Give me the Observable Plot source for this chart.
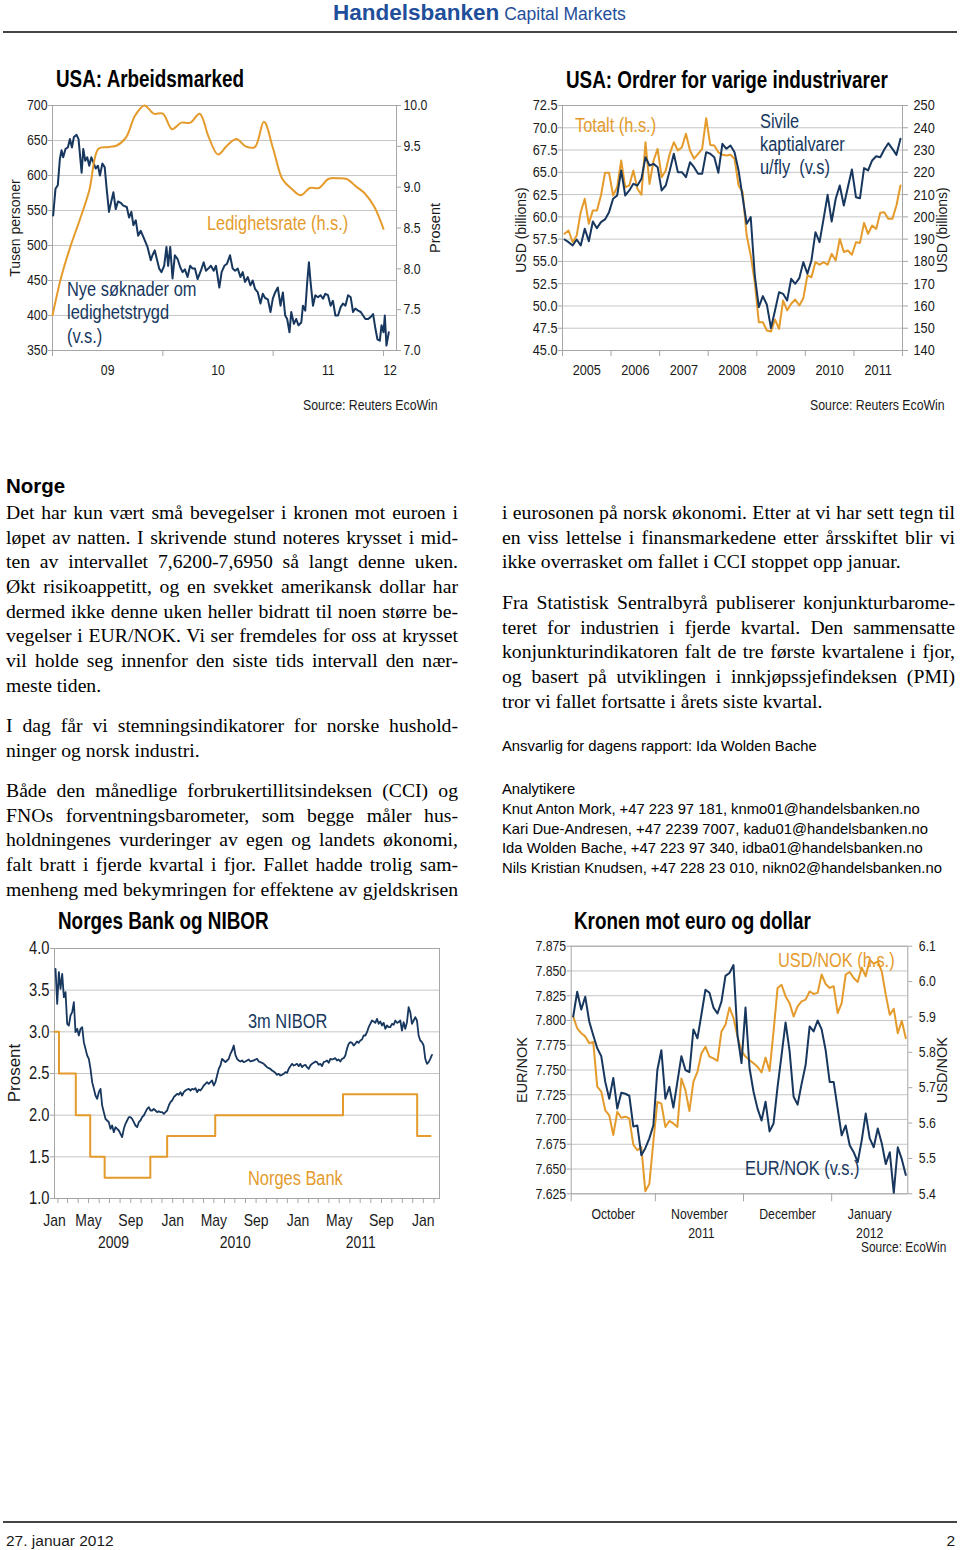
<!DOCTYPE html>
<html>
<head>
<meta charset="utf-8">
<script src="https://cdn.jsdelivr.net/npm/d3@7"></script>
<script src="https://cdn.jsdelivr.net/npm/@observablehq/plot@0.6"></script>
<style>
  html, body { margin: 0; padding: 0; background: #fff; }
  #root { position: relative; width: 960px; height: 1550px; overflow: hidden; background: #fff; }
</style>
</head>
<body>
<div id="root"></div>
<script>
// ---------------- DATA ----------------
// Chart 1: USA: Arbeidsmarked
const unemploymentRate = [7.43,7.92,8.29,8.61,8.96,9.47,9.49,9.51,9.61,9.88,10.0,9.9,9.9,9.71,9.79,9.79,9.9,9.61,9.4,9.51,9.59,9.5,9.49,9.8,9.47,9.1,8.98,8.9,8.99,8.99,9.1,9.11,9.1,9.01,8.92,8.76,8.49]; // monthly from Jan 2009, %
const rateStartYear = 2009;
const claims = [ // [decimal year, thousand persons]
[2009.006,543],[2009.027,581],[2009.048,586],[2009.067,624],[2009.082,636],[2009.097,626],[2009.118,638],[2009.139,640],[2009.158,652],[2009.176,640],
[2009.194,655],[2009.218,658],[2009.236,652],[2009.264,604],[2009.279,638],[2009.297,621],[2009.315,626],[2009.333,614],[2009.352,626],[2009.370,619],
[2009.391,610],[2009.412,614],[2009.430,600],[2009.452,617],[2009.473,612],[2009.491,581],[2009.512,548],[2009.533,563],[2009.552,576],[2009.573,552],
[2009.594,563],[2009.618,561],[2009.642,557],[2009.673,555],[2009.694,540],[2009.715,548],[2009.733,529],[2009.755,536],[2009.776,514],[2009.800,521],
[2009.824,512],[2009.861,498],[2009.891,479],[2009.906,486],[2009.927,493],[2009.945,481],[2009.967,467],[2009.988,462],[2010.012,471],[2010.033,498],
[2010.048,471],[2010.067,498],[2010.088,453],[2010.109,486],[2010.133,481],[2010.158,469],[2010.179,462],[2010.200,466],[2010.224,455],[2010.248,471],
[2010.270,467],[2010.291,467],[2010.315,452],[2010.345,464],[2010.370,476],[2010.391,464],[2010.412,467],[2010.436,471],[2010.461,464],[2010.482,471],
[2010.512,440],[2010.533,462],[2010.558,471],[2010.582,474],[2010.609,486],[2010.633,467],[2010.655,464],[2010.679,467],[2010.703,455],[2010.724,462],
[2010.745,448],[2010.770,455],[2010.794,443],[2010.815,450],[2010.836,438],[2010.861,433],[2010.885,417],[2010.906,431],[2010.927,425],[2010.952,423],
[2010.976,405],[2010.997,424],[2011.018,433],[2011.042,440],[2011.067,414],[2011.088,433],[2011.109,400],[2011.127,395],[2011.148,376],[2011.164,405],
[2011.188,388],[2011.209,395],[2011.230,386],[2011.255,390],[2011.270,414],[2011.291,407],[2011.309,448],[2011.324,476],[2011.339,448],[2011.361,414],
[2011.382,429],[2011.406,426],[2011.430,429],[2011.452,424],[2011.473,431],[2011.497,429],[2011.521,414],[2011.542,421],[2011.564,400],[2011.588,400],
[2011.612,412],[2011.633,417],[2011.655,414],[2011.679,429],[2011.703,426],[2011.724,405],[2011.745,410],[2011.770,407],[2011.794,405],[2011.815,400],
[2011.836,395],[2011.861,395],[2011.885,398],[2011.906,402],[2011.927,381],[2011.945,366],[2011.967,364],[2011.982,386],[2012.000,376],[2012.012,400],
[2012.027,357],[2012.048,376]
];
const claimsTicks = [350,400,450,500,550,600,650,700];
const rateTicks = [7.0,7.5,8.0,8.5,9.0,9.5,10.0];
const yearLabels1 = ["09","10","11","12"];

// Chart 2: USA: Ordrer for varige industrivarer (monthly Jan 2005 - Dec 2011)
const capGoodsExAir = [57.46,57.16,56.79,57.46,56.79,58.66,57.27,59.48,58.73,59.41,
59.71,60.53,62.03,62.40,65.21,62.40,62.96,63.71,63.52,64.27,
66.70,65.77,65.95,65.58,62.96,63.52,65.21,67.08,65.02,65.02,
64.46,66.14,65.58,64.83,64.83,67.26,67.08,66.70,64.94,68.20,
67.64,68.01,67.26,65.21,62.21,59.22,59.97,53.42,49.87,51.10,
50.13,47.51,49.49,51.55,51.36,50.62,53.05,52.49,53.12,54.92,
53.61,55.10,58.28,57.16,59.78,62.47,59.48,62.03,63.52,61.28,
63.33,65.32,62.21,62.10,65.47,65.21,66.33,66.81,66.70,67.56,
68.27,67.64,66.96,68.76];
const totalOrders = [192.4,193.9,188.6,191.6,202.1,208.1,196.9,202.9,202.9,209.6,
219.8,219.8,209.6,213.3,225.3,213.3,214.1,220.8,212.6,209.9,
233.5,214.8,225.3,230.5,217.8,220.8,228.3,233.5,229.8,231.3,
237.3,229.8,226.1,228.3,230.5,244.3,232.3,232.0,229.0,227.9,
227.6,227.9,226.1,214.1,211.1,191.6,182.7,170.7,152.7,152.7,
149.0,148.5,153.9,149.7,162.4,158.0,161.0,162.9,160.2,163.5,
173.7,172.9,179.7,178.5,179.7,178.5,183.4,180.4,190.1,184.2,
184.9,183.0,188.6,188.3,197.3,192.4,196.1,194.6,201.8,202.1,
199.1,199.1,205.1,214.1];
const ordersStartYear = 2005;
const capTicks = [45,47.5,50,52.5,55,57.5,60,62.5,65,67.5,70,72.5];
const totalTicks = [140,150,160,170,180,190,200,210,220,230,240,250];
const yearLabels2 = ["2005","2006","2007","2008","2009","2010","2011"];

// Chart 3: Norges Bank og NIBOR
const policyDates = ["2009-01-22","2009-02-04","2009-03-25","2009-05-06","2009-06-17","2009-10-28","2009-12-16","2010-05-05","2011-05-12","2011-12-14","2012-01-22"];
const policyRates = [3.0,2.5,2.0,1.5,1.25,1.5,1.75,2.0,2.25,1.75,1.75];
const niborStart = "2009-01-25", niborEnd = "2012-01-26";
const nibor3m = [3.756,3.336,3.716,3.516,3.696,3.416,3.476,3.096,3.076,3.196,3.236,3.356,2.996,3.036,
2.956,3.036,3.056,2.876,2.796,2.716,2.676,2.556,2.396,2.316,2.236,2.196,2.276,2.316,2.116,2.036,1.956,1.936,1.916,1.836,1.876,1.796,1.856,1.836,1.816,1.776,1.736,1.836,1.896,1.936,1.976,1.976,1.956,1.916,1.876,1.856,1.916,1.936,1.976,1.996,2.036,2.076,2.096,2.056,2.056,2.076,2.056,2.036,2.048,2.036,2.036,2.016,2.036,2.056,2.116,2.156,2.176,2.216,2.236,2.256,2.244,2.276,2.236,2.276,2.296,2.308,2.316,2.296,2.316,2.308,2.324,2.276,2.308,2.296,2.324,2.356,2.376,2.396,2.376,2.396,2.416,2.356,2.396,2.476,2.556,2.596,2.676,2.656,2.636,2.656,2.676,2.736,2.776,2.836,2.724,2.676,2.656,2.644,2.656,2.636,2.644,2.656,2.668,2.644,2.652,2.656,2.668,2.676,2.644,2.636,2.628,2.616,2.596,2.576,2.564,2.556,2.536,2.524,2.508,2.484,2.496,2.476,2.484,2.496,2.516,2.508,2.556,2.588,2.616,2.596,2.604,2.616,2.588,2.616,2.576,2.596,2.604,2.576,2.556,2.596,2.616,2.628,2.644,2.636,2.604,2.616,2.588,2.636,2.644,2.656,2.628,2.676,2.668,2.676,2.684,2.656,2.668,2.644,2.676,2.684,2.716,2.796,2.856,2.876,2.868,2.836,2.856,2.884,2.868,2.896,2.908,2.956,2.956,2.996,3.056,3.096,3.136,3.124,3.108,3.156,3.096,3.124,3.076,3.108,3.036,3.076,3.056,3.056,3.096,3.084,3.136,3.108,3.116,3.136,3.016,3.116,3.036,3.116,3.296,3.236,3.096,3.136,3.176,3.136,2.956,2.896,2.876,2.836,2.676,2.616,2.636,2.676,2.724];
const rateTicks3 = [1.0,1.5,2.0,2.5,3.0,3.5,4.0];
const axis3Start = "2009-01-22", axis3End = "2012-02-17";
const monthShort = ["Jan","Feb","Mar","Apr","May","Jun","Jul","Aug","Sep","Oct","Nov","Dec"];
const labelledMonths3 = [0,4,8];
const yearLabels3 = ["2009","2010","2011"];

// Chart 4: Kronen mot euro og dollar (daily, trading days from 3 Oct 2011)
const fxStart = "2011-10-03";
const eurNok = [7.804,7.829,7.811,7.824,7.799,7.785,7.772,7.764,7.738,7.721,
7.742,7.711,7.727,7.726,7.724,7.693,7.694,7.664,7.671,7.681,
7.694,7.750,7.770,7.721,7.733,7.712,7.738,7.764,7.750,7.748,
7.791,7.782,7.806,7.831,7.828,7.813,7.807,7.819,7.845,7.848,
7.856,7.785,7.757,7.813,7.752,7.728,7.711,7.699,7.718,7.688,
7.696,7.733,7.765,7.798,7.769,7.723,7.715,7.736,7.755,7.794,
7.789,7.800,7.791,7.770,7.738,7.738,7.711,7.684,7.694,7.674,
7.667,7.657,7.679,7.706,7.681,7.672,7.691,7.676,7.655,7.667,
7.626,7.672,7.660,7.644];
const usdNok = [5.901,5.868,5.854,5.845,5.826,5.829,5.703,5.689,5.636,5.622,
5.566,5.632,5.615,5.618,5.613,5.539,5.523,5.532,5.407,5.428,
5.547,5.660,5.655,5.589,5.606,5.599,5.589,5.726,5.693,5.634,
5.717,5.745,5.797,5.816,5.788,5.783,5.776,5.859,5.878,5.927,
5.897,5.845,5.804,5.788,5.778,5.769,5.759,5.743,5.785,5.747,
5.859,5.982,5.991,5.958,5.939,5.901,5.930,5.944,5.949,5.972,
5.965,5.968,6.020,5.993,5.982,5.987,5.911,5.939,6.020,6.027,
6.010,5.999,6.039,6.015,6.062,6.050,6.057,6.029,5.963,5.906,
5.923,5.854,5.889,5.840];
const eurTicks = [7.625,7.650,7.675,7.700,7.725,7.750,7.775,7.800,7.825,7.850,7.875];
const usdTicks = [5.4,5.5,5.6,5.7,5.8,5.9,6.0,6.1];
const monthLong = ["January","February","March","April","May","June","July","August","September","October","November","December"];

// Text
const textLeft = [
  ["Det har kun vært små bevegelser i kronen mot euroen i",
   "løpet av natten. I skrivende stund noteres krysset i mid-",
   "ten av intervallet 7,6200-7,6950 så langt denne uken.",
   "Økt risikoappetitt, og en svekket amerikansk dollar har",
   "dermed ikke denne uken heller bidratt til noen større be-",
   "vegelser i EUR/NOK. Vi ser fremdeles for oss at krysset",
   "vil holde seg innenfor den siste tids intervall den nær-",
   "meste tiden."],
  ["I dag får vi stemningsindikatorer for norske hushold-",
   "ninger og norsk industri."],
  ["Både den månedlige forbrukertillitsindeksen (CCI) og",
   "FNOs forventningsbarometer, som begge måler hus-",
   "holdningenes vurderinger av egen og landets økonomi,",
   "falt bratt i fjerde kvartal i fjor. Fallet hadde trolig sam-",
   "menheng med bekymringen for effektene av gjeldskrisen"]
];
const textRight = [
  ["i eurosonen på norsk økonomi. Etter at vi har sett tegn til",
   "en viss lettelse i finansmarkedene etter årsskiftet blir vi",
   "ikke overrasket om fallet i CCI stoppet opp januar."],
  ["Fra Statistisk Sentralbyrå publiserer konjunkturbarome-",
   "teret for industrien i fjerde kvartal. Den sammensatte",
   "konjunkturindikatoren falt de tre første kvartalene i fjor,",
   "og basert på utviklingen i innkjøpssjefindeksen (PMI)",
   "tror vi fallet fortsatte i årets siste kvartal."]
];
const contacts = [
  "Knut Anton Mork, +47 223 97 181, knmo01@handelsbanken.no",
  "Kari Due-Andresen, +47 2239 7007, kadu01@handelsbanken.no",
  "Ida Wolden Bache, +47 223 97 340, idba01@handelsbanken.no",
  "Nils Kristian Knudsen, +47 228 23 010, nikn02@handelsbanken.no"
];

// ---------------- STYLE ----------------
const SANS = "'Liberation Sans',Arial,sans-serif";
const NARROW = SANS;          // rendered condensed (no narrow face installed)
const CONDENSE = 0.82;
const SERIF = "'Liberation Serif','Times New Roman',serif";
const NAVY = "#17375E", ORANGE = "#E49B2C", GRID = "#c6c6c6", FRAME = "#a6a6a6", TXT = "#1a1a1a";
const root = document.getElementById("root");

function label(text, x, y, o = {}) {
  const d = document.createElement("div");
  d.textContent = text;
  const size = o.size || 15, lh = Math.round(size * 1.2);
  const condensed = o.family === undefined;
  d.style.cssText = `position:absolute;left:${x}px;top:${y - lh / 2}px;line-height:${lh}px;font-size:${size}px;font-family:${o.family || NARROW};font-weight:${o.weight || 400};color:${o.color || TXT};white-space:pre;`;
  root.appendChild(d);
  if (o.rotate) {
    d.style.top = y + "px";
    d.style.transform = "translate(-50%,-50%) rotate(-90deg)";
    return d;
  }
  const k = condensed ? CONDENSE : 1;
  const w = d.getBoundingClientRect().width * k;
  const left = o.anchor === "end" ? x - w : o.anchor === "middle" ? x - w / 2 : x;
  d.style.left = left + "px";
  d.style.transformOrigin = "0 50%";
  if (k !== 1) d.style.transform = `scaleX(${k})`;
  return d;
}
function rule(x1, x2, y, w, c) {
  const d = document.createElement("div");
  d.style.cssText = `position:absolute;left:${x1}px;top:${y - w / 2}px;width:${x2 - x1}px;height:${w}px;background:${c};`;
  root.appendChild(d);
}
function place(svg, left, top) {
  svg.style.position = "absolute";
  svg.style.left = left + "px";
  svg.style.top = top + "px";
  root.appendChild(svg);
  svg.querySelectorAll("text").forEach(t => {
    const L = t.getComputedTextLength();
    if (L > 0) {
      t.setAttribute("textLength", (L * CONDENSE).toFixed(2));
      t.setAttribute("lengthAdjust", "spacingAndGlyphs");
    }
  });
}
const plotStyle = {fontFamily: NARROW, fontSize: "15px", overflow: "visible", background: "transparent", color: TXT};
function visibleYearCenters(years, lo, hi) {
  return years.map(y => {
    const a = Math.max(+y, lo), b = Math.min(+y + 1, hi);
    return (a + b) / 2;
  });
}

// ---------------- HEADER / FOOTER ----------------
{
  const h = document.createElement("div");
  h.style.cssText = `position:absolute;left:333px;top:0px;line-height:26px;white-space:pre;color:#1F4E9A;font-family:${SANS};`;
  h.innerHTML = `<span style="font-weight:700;font-size:22.5px">Handelsbanken</span><span style="font-size:17.5px"> Capital Markets</span>`;
  root.appendChild(h);
  rule(3, 957, 31.5, 2, "#444");
  rule(3, 957, 1522, 2, "#444");
  label("27. januar 2012", 6, 1540, {family: SANS, size: 15.5});
  label("2", 955, 1540, {family: SANS, size: 15.5, anchor: "end"});
}

// ---------------- CHART 1 ----------------
{
  const toLeft = r => 350 + (r - 7) * 350 / 3;
  const toRate = v => (v - 350) * 3 / 350 + 7;
  const x0 = 2009, x1 = 2012.118;
  const rateData = unemploymentRate.map((r, i) => ({t: rateStartYear + i / 12, v: toLeft(r)}));
  const claimData = claims.map(([t, v]) => ({t, v}));
  const yrs = yearLabels1.map(s => 2000 + +s);
  const centers = visibleYearCenters(yrs, x0, x1);
  const xl = yearLabels1.map((s, i) => ({t: centers[i], label: s}));
  const svg = Plot.plot({
    width: 460, height: 290, marginLeft: 52, marginRight: 64, marginTop: 10, marginBottom: 35,
    style: plotStyle,
    x: {domain: [x0, x1], axis: null},
    y: {domain: [350, 700], axis: null},
    marks: [
      Plot.gridY(claimsTicks, {stroke: GRID, strokeOpacity: 1}),
      Plot.frame({stroke: FRAME}),
      Plot.axisY(claimsTicks, {anchor: "left", tickSize: 4, tickPadding: 1, stroke: FRAME, fill: TXT, fontSize: 15, label: null}),
      Plot.axisY(rateTicks.map(toLeft), {anchor: "right", tickSize: 4, tickPadding: 3, stroke: FRAME, fill: TXT, fontSize: 15, label: null, tickFormat: d => toRate(d).toFixed(1)}),
      Plot.axisX(yrs.filter(y => y >= x0 && y <= x1), {anchor: "bottom", tickSize: 6, stroke: FRAME, fill: "none", label: null}),
      Plot.text(xl, {x: "t", text: "label", frameAnchor: "bottom", dy: 20, lineAnchor: "middle", fill: TXT, fontSize: 15}),
      Plot.line(claimData, {x: "t", y: "v", stroke: NAVY, strokeWidth: 2}),
      Plot.line(rateData, {x: "t", y: "v", stroke: ORANGE, strokeWidth: 2, curve: "catmull-rom"})
    ]
  });
  place(svg, 0, 95);
  label("USA: Arbeidsmarked", 56, 79, {size: 23, weight: 700, color: "#000"});
  label("Tusen personer", 15, 228, {family: SANS, size: 14, rotate: true});
  label("Prosent", 435, 228, {family: SANS, size: 14.5, rotate: true});
  label("Ledighetsrate (h.s.)", 207, 223, {size: 20, color: ORANGE});
  label("Nye søknader om", 67, 289, {size: 20, color: NAVY});
  label("ledighetstrygd", 67, 312, {size: 20, color: NAVY});
  label("(v.s.)", 67, 336, {size: 20, color: NAVY});
  label("Source: Reuters EcoWin", 438, 405, {size: 15, anchor: "end"});
}

// ---------------- CHART 2 ----------------
{
  const toLeft = r => 45 + (r - 140) / 4;
  const x0 = 2005, x1 = 2012;
  const cap = capGoodsExAir.map((v, i) => ({t: ordersStartYear + (i + 0.5) / 12, v}));
  const tot = totalOrders.map((r, i) => ({t: ordersStartYear + (i + 0.5) / 12, v: toLeft(r)}));
  const yrs = yearLabels2.map(Number);
  const centers = visibleYearCenters(yrs, x0, x1);
  const xl = yearLabels2.map((s, i) => ({t: centers[i], label: s}));
  const tickYears = yrs.concat([yrs[yrs.length - 1] + 1]);
  const svg = Plot.plot({
    width: 460, height: 290, marginLeft: 62, marginRight: 58, marginTop: 10, marginBottom: 35,
    style: plotStyle,
    x: {domain: [x0, x1], axis: null},
    y: {domain: [45, 72.5], axis: null},
    marks: [
      Plot.gridY(capTicks, {stroke: GRID, strokeOpacity: 1}),
      Plot.frame({stroke: FRAME}),
      Plot.axisY(capTicks, {anchor: "left", tickSize: 4, tickPadding: 1, stroke: FRAME, fill: TXT, fontSize: 15.5, label: null, tickFormat: d => d.toFixed(1)}),
      Plot.axisY(totalTicks.map(toLeft), {anchor: "right", tickSize: 5, tickPadding: 6, stroke: FRAME, fill: TXT, fontSize: 15.5, label: null, tickFormat: d => String(Math.round(140 + (d - 45) * 4))}),
      Plot.axisX(tickYears, {anchor: "bottom", tickSize: 6, stroke: FRAME, fill: "none", label: null}),
      Plot.text(xl, {x: "t", text: "label", frameAnchor: "bottom", dy: 20, lineAnchor: "middle", fill: TXT, fontSize: 15.5}),
      Plot.line(tot, {x: "t", y: "v", stroke: ORANGE, strokeWidth: 2}),
      Plot.line(cap, {x: "t", y: "v", stroke: NAVY, strokeWidth: 2})
    ]
  });
  place(svg, 500, 95);
  label("USA: Ordrer for varige industrivarer", 566, 80, {size: 23, weight: 700, color: "#000"});
  label("USD (billions)", 521, 230, {family: SANS, size: 14, rotate: true});
  label("USD (billions)", 942, 230, {family: SANS, size: 14, rotate: true});
  label("Totalt (h.s.)", 575, 125, {size: 20, color: ORANGE});
  label("Sivile", 760, 121, {size: 20, color: NAVY});
  label("kaptialvarer", 760, 144, {size: 20, color: NAVY});
  label("u/fly  (v.s)", 760, 167, {size: 20, color: NAVY});
  label("Source: Reuters EcoWin", 945, 405, {size: 15, anchor: "end"});
}

// ---------------- CHART 3 ----------------
{
  const d0 = new Date(axis3Start), d1 = new Date(axis3End);
  const policy = policyDates.map((d, i) => ({d: new Date(d), r: policyRates[i]}));
  const ns = +new Date(niborStart), ne = +new Date(niborEnd);
  const nib = nibor3m.map((v, i) => ({d: new Date(ns + (ne - ns) * i / (nibor3m.length - 1)), v}));
  const months = d3.utcMonth.range(d3.utcMonth.ceil(d0), d1);
  const mLabels = [{d: d0, label: monthShort[d0.getUTCMonth()]}].concat(
    months.filter(m => labelledMonths3.includes(m.getUTCMonth()))
          .map(m => ({d: m, label: monthShort[m.getUTCMonth()]})));
  const yLabels = yearLabels3.map(y => {
    const a = Math.max(+Date.UTC(+y, 0, 1), +d0), b = Math.min(+Date.UTC(+y + 1, 0, 1), +d1);
    return {d: new Date((a + b) / 2), label: y};
  });
  const svg = Plot.plot({
    width: 460, height: 320, marginLeft: 54, marginRight: 21, marginTop: 13, marginBottom: 57,
    style: plotStyle,
    x: {type: "utc", domain: [d0, d1], axis: null},
    y: {domain: [1.0, 4.0], axis: null},
    marks: [
      Plot.gridY(rateTicks3, {stroke: GRID, strokeOpacity: 1}),
      Plot.frame({stroke: FRAME}),
      Plot.axisY(rateTicks3, {anchor: "left", tickSize: 4, tickPadding: 1, stroke: FRAME, fill: TXT, fontSize: 18, label: null, tickFormat: d => d.toFixed(1)}),
      Plot.axisX(months, {anchor: "bottom", tickSize: 5, stroke: FRAME, fill: "none", label: null}),
      Plot.text(mLabels, {x: "d", text: "label", frameAnchor: "bottom", dy: 22, lineAnchor: "middle", fill: TXT, fontSize: 17}),
      Plot.text(yLabels, {x: "d", text: "label", frameAnchor: "bottom", dy: 44, lineAnchor: "middle", fill: TXT, fontSize: 17}),
      Plot.line(policy, {x: "d", y: "r", curve: "step-after", stroke: ORANGE, strokeWidth: 2}),
      Plot.line(nib, {x: "d", y: "v", stroke: NAVY, strokeWidth: 1.8})
    ]
  });
  place(svg, 0, 935);
  label("Norges Bank og NIBOR", 58, 921, {size: 23, weight: 700, color: "#000"});
  label("Prosent", 15, 1073, {family: SANS, size: 17, rotate: true});
  label("3m NIBOR", 248, 1021, {size: 20, color: NAVY});
  label("Norges Bank", 248, 1178, {size: 20, color: ORANGE});
}

// ---------------- CHART 4 ----------------
{
  const toLeft = r => 7.625 + (r - 5.4) * 0.25 / 0.7;
  const days = [];
  for (let t = +new Date(fxStart); days.length < eurNok.length; t += 86400000) {
    const wd = new Date(t).getUTCDay();
    if (wd !== 0 && wd !== 6) days.push(new Date(t));
  }
  const eur = eurNok.map((v, i) => ({i, v}));
  const usd = usdNok.map((r, i) => ({i, v: toLeft(r)}));
  const groups = [];
  days.forEach((d, i) => {
    const key = d.getUTCFullYear() * 12 + d.getUTCMonth();
    if (!groups.length || groups[groups.length - 1].key !== key) groups.push({key, m: d.getUTCMonth(), y: d.getUTCFullYear(), first: i, last: i});
    else groups[groups.length - 1].last = i;
  });
  const n = eurNok.length;
  const boundaries = groups.map(g => g.first - 0.5);
  const mLabels = groups.map(g => ({i: (g.first + g.last) / 2, label: monthLong[g.m]}));
  const ys = d3.groups(groups, g => g.y).map(([y, gs]) => ({i: (gs[0].first + gs[gs.length - 1].last) / 2, label: String(y)}));
  const svg = Plot.plot({
    width: 460, height: 320, marginLeft: 70.7, marginRight: 52.7, marginTop: 10.7, marginBottom: 61.7,
    style: plotStyle,
    x: {domain: [-0.5, n - 0.5], axis: null},
    y: {domain: [7.625, 7.875], axis: null},
    marks: [
      Plot.gridY(eurTicks, {stroke: GRID, strokeOpacity: 1}),
      Plot.frame({stroke: FRAME}),
      Plot.axisY(eurTicks, {anchor: "left", tickSize: 4, tickPadding: 1, stroke: FRAME, fill: TXT, fontSize: 15, label: null, tickFormat: d => d.toFixed(3)}),
      Plot.axisY(usdTicks.map(toLeft), {anchor: "right", tickSize: 4, tickPadding: 7, stroke: FRAME, fill: TXT, fontSize: 15, label: null, tickFormat: d => (5.4 + (d - 7.625) * 0.7 / 0.25).toFixed(1)}),
      Plot.axisX(boundaries, {anchor: "bottom", tickSize: 8, stroke: FRAME, fill: "none", label: null}),
      Plot.text(mLabels, {x: "i", text: "label", frameAnchor: "bottom", dy: 20, lineAnchor: "middle", fill: TXT, fontSize: 15}),
      Plot.text(ys, {x: "i", text: "label", frameAnchor: "bottom", dy: 39, lineAnchor: "middle", fill: TXT, fontSize: 15}),
      Plot.line(usd, {x: "i", y: "v", stroke: ORANGE, strokeWidth: 2}),
      Plot.line(eur, {x: "i", y: "v", stroke: NAVY, strokeWidth: 2})
    ]
  });
  place(svg, 500, 935);
  label("Kronen mot euro og dollar", 574, 921, {size: 23, weight: 700, color: "#000"});
  label("EUR/NOK", 522, 1070, {family: SANS, size: 14.5, rotate: true});
  label("USD/NOK", 942, 1070, {family: SANS, size: 14.5, rotate: true});
  label("USD/NOK (h.s.)", 778, 960, {size: 20, color: ORANGE});
  label("EUR/NOK (v.s.)", 745, 1168, {size: 20, color: NAVY});
  label("Source: EcoWin", 946, 1247, {size: 14.5, anchor: "end"});
}

// ---------------- BODY TEXT ----------------
const BODY_SIZE = 19.7, LINE = 24.65;
function textLine(str, x, yc, width, justify) {
  const lh = 24;
  const d = document.createElement("div");
  d.textContent = str;
  d.style.cssText = `position:absolute;left:${x}px;top:${yc - lh / 2}px;white-space:pre;font-family:${SERIF};font-size:${BODY_SIZE}px;line-height:${lh}px;color:#000;transform-origin:0 50%;`;
  root.appendChild(d);
  const w = d.getBoundingClientRect().width;
  if (justify) {
    const nsp = (str.match(/ /g) || []).length;
    const ws = nsp ? (width - w) / nsp : 0;
    if (ws >= -1.5) d.style.wordSpacing = ws + "px";
    else d.style.transform = `scaleX(${width / w})`;
  } else if (w > width) {
    d.style.transform = `scaleX(${width / w})`;
  }
}
function column(paras, x, width, starts, justifyLastOf) {
  paras.forEach((lines, p) => {
    lines.forEach((s, k) => {
      const last = k === lines.length - 1;
      textLine(s, x, starts[p] + k * LINE, width, !last || justifyLastOf.includes(p));
    });
  });
}
label("Norge", 6, 485, {family: SANS, size: 20.5, weight: 700, color: "#000"});
column(textLeft, 6, 452, [512, 725, 790], [2]);
column(textRight, 502, 453, [512, 602], []);
label("Ansvarlig for dagens rapport: Ida Wolden Bache", 502, 746, {family: SANS, size: 14.8, color: "#000"});
label("Analytikere", 502, 789, {family: SANS, size: 14.8, color: "#000"});
contacts.forEach((c, i) => label(c, 502, 809 + i * 19.7, {family: SANS, size: 14.8, color: "#000"}));
</script>
</body>
</html>
